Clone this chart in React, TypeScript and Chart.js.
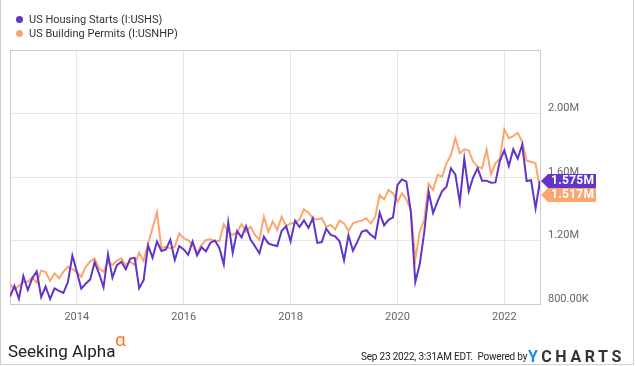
import React, { useEffect, useRef } from "react";
import { Chart, registerables } from "chart.js";

Chart.register(...registerables);

// Monthly data, Sep 2012 .. Aug 2022 (thousands, SAAR)
const housingStarts = [
  847, 915, 833, 976,
  888, 962, 1005, 844, 910, 831, 898, 883, 870, 938, 1105, 1003,
  897, 928, 954, 1063, 992, 905, 1113, 966, 1045, 1066, 1019, 1086,
  1091, 900, 950, 1169, 1092, 1193, 1134, 1143, 1204, 1077, 1165, 1144,
  1110, 1194, 1106, 1158, 1132, 1186, 1200, 1153, 1050, 1314, 1123, 1259,
  1220, 1290, 1206, 1164, 1120, 1224, 1182, 1172, 1165, 1261, 1290, 1195,
  1325, 1285, 1327, 1280, 1340, 1185, 1190, 1275, 1235, 1226, 1195, 1075,
  1232, 1136, 1193, 1255, 1265, 1236, 1215, 1375, 1295, 1330, 1345, 1550,
  1585, 1571, 1380, 938, 1050, 1249, 1506, 1373, 1447, 1510, 1539, 1655,
  1615, 1440, 1715, 1510, 1598, 1655, 1577, 1577, 1564, 1566, 1703, 1768,
  1670, 1775, 1716, 1803, 1575, 1580, 1404, 1575,
];

const buildingPermits = [
  926, 892, 913, 940,
  940, 968, 934, 1010, 1001, 945, 993, 962, 1004, 1034, 1020, 1001,
  972, 1034, 1067, 1086, 1025, 1003, 1067, 1046, 1073, 1088, 1046, 1065,
  1046, 1123, 1071, 1181, 1277, 1378, 1151, 1161, 1151, 1161, 1245, 1214,
  1203, 1172, 1123, 1172, 1203, 1207, 1197, 1197, 1302, 1255, 1235, 1255,
  1302, 1255, 1287, 1235, 1203, 1350, 1255, 1319, 1266, 1350, 1291, 1308,
  1312, 1333, 1396, 1375, 1340, 1333, 1340, 1287, 1298, 1270, 1325, 1308,
  1260, 1308, 1319, 1325, 1340, 1308, 1350, 1487, 1459, 1518, 1497, 1444,
  1497, 1459, 1392, 1082, 1255, 1329, 1556, 1518, 1613, 1602, 1686, 1739,
  1844, 1750, 1774, 1766, 1696, 1665, 1655, 1774, 1619, 1686, 1717, 1900,
  1844, 1858, 1879, 1822, 1703, 1696, 1686, 1517,
];

const seriesNames = ["US Housing Starts (I:USHS)", "US Building Permits (I:USNHP)"];
const lastValueLabels = ["1.575M", "1.517M"];
// x positions are month indexes (0 = Sep 2012 reading); year gridlines
const yearTickIndex = [15, 39, 63, 87, 111];
const yearTickLabels = ["2014", "2016", "2018", "2020", "2022"];
const yTickValues = [800, 1200, 1600, 2000, 2400];
const yTickLabels = ["800.00K", "1.20M", "1.60M", "2.00M", ""];

const PURPLE = "#6234c8";
const ORANGE = "#fda56f";

export default function App() {
  const canvasRef = useRef<HTMLCanvasElement | null>(null);

  useEffect(() => {
    if (!canvasRef.current) return;
    const overlay = {
      id: "overlay",
      beforeDatasetsDraw(chart: any) {
        const { ctx, chartArea } = chart;
        ctx.save();
        ctx.strokeStyle = "#cccccc";
        ctx.lineWidth = 1;
        ctx.strokeRect(
          Math.round(chartArea.left) + 0.5,
          Math.round(chartArea.top) + 0.5,
          Math.round(chartArea.right - chartArea.left),
          Math.round(chartArea.bottom - chartArea.top)
        );
        ctx.restore();
      },
      afterDraw(chart: any) {
        const { ctx, chartArea } = chart;
        const yScale = chart.scales.y;
        const colors = [PURPLE, ORANGE];
        const series = [housingStarts, buildingPermits];
        let prevBottom = -1000;
        const h = 14;
        series.forEach((s, i) => {
          let cy = yScale.getPixelForValue(s[s.length - 1]);
          if (cy - h / 2 < prevBottom) cy = prevBottom + h / 2;
          prevBottom = cy + h / 2;
          const tip = chartArea.right + 1;
          const right = 596;
          ctx.save();
          ctx.fillStyle = colors[i];
          ctx.beginPath();
          ctx.moveTo(tip, cy);
          ctx.lineTo(tip + 7, cy - h / 2);
          ctx.lineTo(right, cy - h / 2);
          ctx.lineTo(right, cy + h / 2);
          ctx.lineTo(tip + 7, cy + h / 2);
          ctx.closePath();
          ctx.fill();
          ctx.fillStyle = "#ffffff";
          ctx.font = "bold 12px Roboto";
          try { (ctx as any).letterSpacing = "0.3px"; } catch (e) {}
          ctx.textAlign = "left";
          ctx.textBaseline = "middle";
          ctx.fillText(lastValueLabels[i], tip + 10, cy + 0.5);
          ctx.restore();
        });
      },
    };

    const chart = new Chart(canvasRef.current, {
      type: "line",
      data: {
        datasets: [
          {
            label: seriesNames[0],
            data: housingStarts.map((v, i) => ({ x: i, y: v })),
            borderColor: PURPLE,
            borderWidth: 2,
            pointRadius: 0,
            tension: 0,
            order: 0,
          },
          {
            label: seriesNames[1],
            data: buildingPermits.map((v, i) => ({ x: i, y: v })),
            borderColor: ORANGE,
            borderWidth: 2,
            pointRadius: 0,
            tension: 0,
            order: 1,
          },
        ],
      },
      options: {
        animation: false,
        responsive: false,
        maintainAspectRatio: false,
        layout: { padding: { left: 10, top: 50, right: 0, bottom: 0 } },
        plugins: { legend: { display: false }, tooltip: { enabled: false } },
        scales: {
          x: {
            type: "linear",
            min: 0,
            max: housingStarts.length - 1,
            afterBuildTicks: (axis: any) => {
              axis.ticks = yearTickIndex.map((v) => ({ value: v }));
            },
            afterFit: (s: any) => {
              s.height = 62;
            },
            grid: { color: "#e6e6e6", drawTicks: false },
            border: { color: "#cccccc" },
            ticks: {
              padding: 7,
              color: "#666666",
              font: { family: "Roboto", size: 11 },
              maxRotation: 0,
              autoSkip: false,
              callback: (v: any) => {
                const k = yearTickIndex.indexOf(Number(v));
                return k >= 0 ? yearTickLabels[k] : "";
              },
            },
          },
          y: {
            position: "right",
            min: 800,
            max: 2400,
            afterBuildTicks: (axis: any) => {
              axis.ticks = yTickValues.map((v) => ({ value: v }));
            },
            afterFit: (s: any) => {
              s.width = 95;
            },
            grid: { color: "#e6e6e6", drawTicks: false },
            border: { color: "#cccccc" },
            ticks: {
              padding: 8,
              labelOffset: -5,
              crossAlign: "near",
              color: "#666666",
              font: { family: "Roboto", size: 11 },
              callback: (v: any) => {
                const k = yTickValues.indexOf(Number(v));
                return k >= 0 ? yTickLabels[k] : "";
              },
            },
          },
        },
      },
      plugins: [overlay],
    } as any);
    return () => chart.destroy();
  }, []);

  const legendRow = (color: string, text: string, top: number) => (
    <div
      style={{
        position: "absolute",
        left: 16,
        top,
        height: 14,
        display: "flex",
        alignItems: "center",
        font: "11px Roboto",
        color: "#333",
        whiteSpace: "nowrap",
      }}
    >
      <span
        style={{
          display: "inline-block",
          width: 7,
          height: 7,
          borderRadius: "50%",
          background: color,
          marginRight: 6,
        }}
      />
      {text}
    </div>
  );

  return (
    <div
      style={{
        position: "absolute",
        left: 0,
        top: 0,
        width: 635,
        height: 366,
        background: "#fff",
        overflow: "hidden",
      }}
    >
      <canvas ref={canvasRef} width={635} height={366} style={{ position: "absolute", left: 0, top: 0, width: 635, height: 366 }} />
      <div
        style={{
          position: "absolute",
          left: 0,
          top: -1,
          width: 632,
          height: 365,
          borderLeft: "1px solid #cfcfcf",
          borderRight: "1px solid #cfcfcf",
          borderBottom: "1px solid #cfcfcf",
          pointerEvents: "none",
        }}
      />
      {legendRow(PURPLE, seriesNames[0], 12)}
      {legendRow(ORANGE, seriesNames[1], 26)}
      <div
        style={{
          position: "absolute",
          left: 8,
          top: 341,
          font: "17px Roboto",
          color: "#222",
          whiteSpace: "nowrap",
          lineHeight: "20px",
        }}
      >
        Seeking Alpha
        <span style={{ position: "absolute", left: 107, top: -11, color: "#ff7a1a", fontSize: 19 }}>α</span>
      </div>
      <div
        style={{
          position: "absolute",
          left: 361,
          top: 350,
          font: "10px Roboto",
          color: "#222",
          whiteSpace: "nowrap",
          letterSpacing: "-0.2px",
          lineHeight: "14px",
        }}
      >
        Sep 23 2022, 3:31AM EDT.&nbsp;&nbsp;Powered by
      </div>
      <div
        style={{
          position: "absolute",
          left: 528,
          top: 347,
          font: "bold 16px Roboto",
          color: "#333",
          whiteSpace: "nowrap",
          letterSpacing: "3.6px",
          lineHeight: "20px",
        }}
      >
        <span style={{ color: "#1a8ee6" }}>Y</span>CHARTS
      </div>
    </div>
  );
}
